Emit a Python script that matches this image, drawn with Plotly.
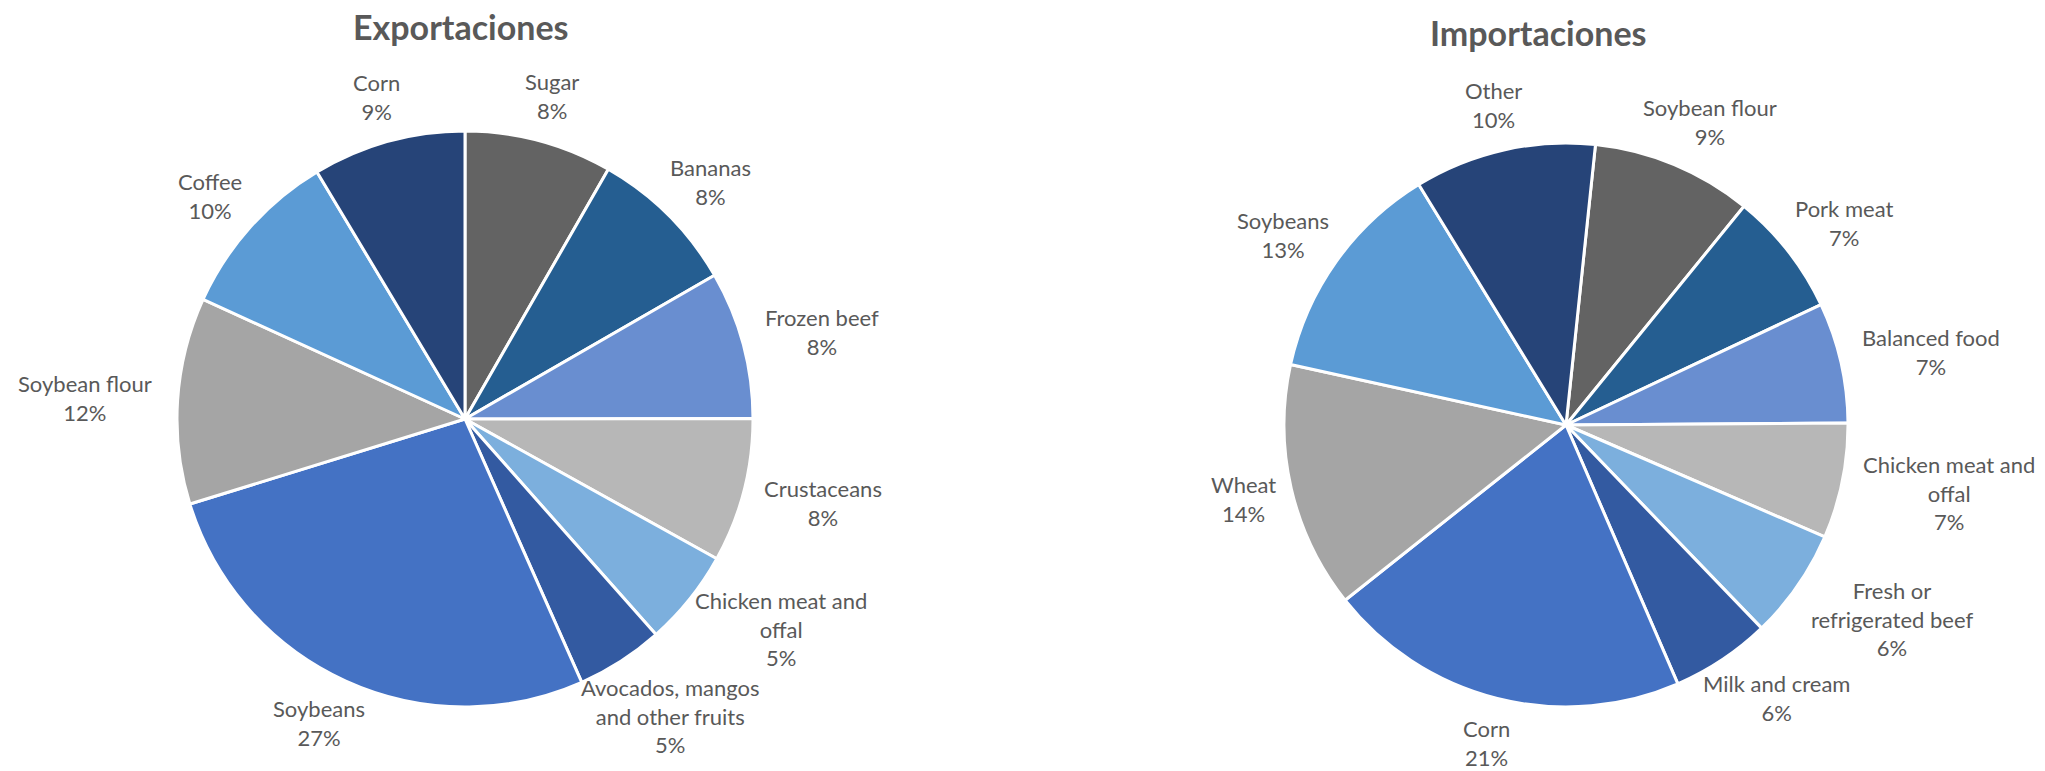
import math
import plotly.graph_objects as go

# ---- data ----
exp_labels = ["Sugar", "Bananas", "Frozen beef", "Crustaceans", "Chicken meat and<br>offal",
              "Avocados, mangos<br>and other fruits", "Soybeans", "Soybean flour", "Coffee", "Corn"]
exp_values = [8.3, 8.4, 8.3, 8.1, 5.4, 4.9, 26.9, 11.6, 9.6, 8.6]

imp_labels = ["Soybean flour", "Pork meat", "Balanced food", "Chicken meat and<br>offal",
              "Fresh or<br>refrigerated beef", "Milk and cream", "Corn", "Wheat", "Soybeans", "Other"]
imp_values = [9.2, 7.1, 6.9, 6.6, 6.3, 5.7, 20.8, 14.1, 12.8, 10.4]

slice_colors = ["#636363", "#255E91", "#698ED0", "#B7B7B7", "#7CAFDD",
                "#335AA1", "#4472C4", "#A5A5A5", "#5B9BD5", "#264478"]

titles = ["Exportaciones", "Importaciones"]

# ---- layout ----
W, H = 2045, 771
FONT = "Lato"
TXT = "#595959"
LBL_SIZE = 22
GAP = 21

pies = [
    dict(labels=exp_labels, values=exp_values, cx=465, cy=419, r=288, rot=0,
         title=titles[0], tx=461, ty=27),
    dict(labels=imp_labels, values=imp_values, cx=1566, cy=425, r=282, rot=6,
         title=titles[1], tx=1538, ty=33),
]


def label_center(p, ang, w, h):
    th = math.radians(ang)
    ux, uy = math.sin(th), -math.cos(th)
    X = p["cx"] + (p["r"] + GAP) * ux + ux * w / 2
    Y = p["cy"] + (p["r"] + GAP) * uy + uy * h / 2
    return X, Y


def overlaps(a, b):
    (xa, ya, wa, ha), (xb, yb, wb, hb) = a, b
    return abs(xa - xb) < (wa + wb) / 2 and abs(ya - yb) < (ha + hb) / 2


fig = go.Figure()
annotations = []

for p in pies:
    fig.add_trace(go.Pie(
        labels=p["labels"], values=p["values"], sort=False, direction="clockwise",
        rotation=p["rot"], marker=dict(colors=slice_colors, line=dict(color="white", width=3)),
        textinfo="none", hoverinfo="label+percent", showlegend=False,
        domain=dict(x=[(p["cx"] - p["r"]) / W, (p["cx"] + p["r"]) / W],
                    y=[1 - (p["cy"] + p["r"]) / H, 1 - (p["cy"] - p["r"]) / H]),
    ))
    total = sum(p["values"])
    cum = 0.0
    texts, angs, sizes = [], [], []
    for lab, v in zip(p["labels"], p["values"]):
        angs.append(p["rot"] + (cum + v / 2) / total * 360)
        cum += v
        lines = lab.split("<br>") + ["%d%%" % round(v / total * 100)]
        texts.append("<br>".join(lines))
        w = max(len(s) for s in lines) * LBL_SIZE * 0.5
        h = len(lines) * LBL_SIZE * 1.15
        sizes.append((w, h))

    # simple collision avoidance between neighbouring labels
    n = len(angs)
    for _ in range(300):
        moved = False
        for i in range(n):
            j = (i + 1) % n
            ci = label_center(p, angs[i], *sizes[i])
            cj = label_center(p, angs[j], *sizes[j])
            bi = (ci[0], ci[1], sizes[i][0], sizes[i][1] * 1.12)
            bj = (cj[0], cj[1], sizes[j][0], sizes[j][1] * 1.12)
            if overlaps(bi, bj):
                angs[i] -= 0.3
                angs[j] += 0.3
                moved = True
        if not moved:
            break

    for t, a, (w, h) in zip(texts, angs, sizes):
        X, Y = label_center(p, a, w, h)
        annotations.append(dict(
            text=t, x=X / W, y=1 - Y / H, xref="paper", yref="paper",
            xanchor="center", yanchor="middle", showarrow=False, align="center",
            font=dict(family=FONT, size=LBL_SIZE, color=TXT)))
    annotations.append(dict(
        text="<b>%s</b>" % p["title"], x=p["tx"] / W, y=1 - p["ty"] / H,
        xref="paper", yref="paper", xanchor="center", yanchor="middle", showarrow=False,
        font=dict(family=FONT, size=34, color=TXT)))

fig.update_layout(
    width=W, height=H, margin=dict(l=0, r=0, t=0, b=0),
    paper_bgcolor="white", plot_bgcolor="white",
    annotations=annotations, showlegend=False,
)

fig.write_html("out.html", config={"displayModeBar": False},
               post_script="document.body.style.margin='0';document.body.style.overflow='hidden';")
